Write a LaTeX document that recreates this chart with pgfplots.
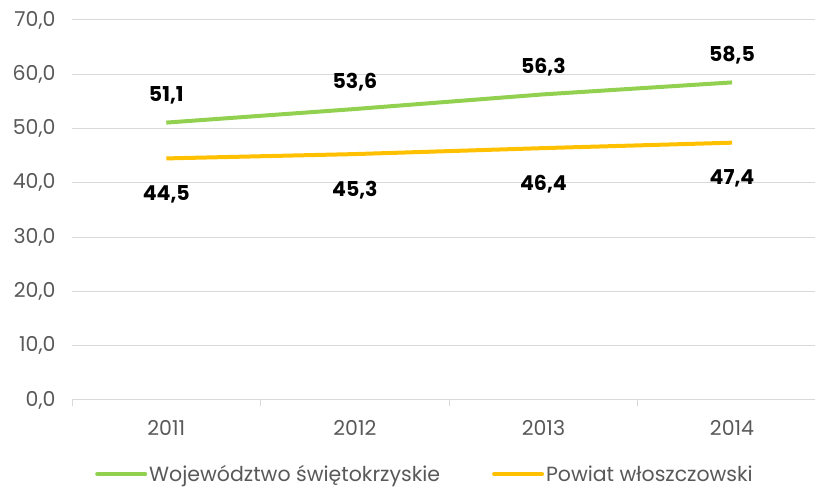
\documentclass[border=0pt]{standalone}
\usepackage{pgfplots}
\pgfplotsset{compat=1.18}
\usepackage{fontspec}
\setmainfont{Poppins}
\definecolor{cgreen}{HTML}{92D050}
\definecolor{cyellow}{HTML}{FFC000}
\definecolor{ctick}{HTML}{595959}
\definecolor{cgrid}{HTML}{D9D9D9}
\begin{document}
\begin{tikzpicture}
\useasboundingbox (0,0) rectangle (815bp,487bp);
\begin{axis}[
  at={(72bp,87bp)}, anchor=south west,
  scale only axis, width=743bp, height=380bp,
  xmin=-0.5, xmax=3.44, ymin=0, ymax=70,
  xtick={0,1,2,3}, xticklabels={2011,2012,2013,2014},
  minor xtick={-0.5,0.5,1.5,2.5},
  major x tick style={draw=none},
  minor x tick style={cgrid, line width=1bp},
  minor tick length=6bp,
  xtick align=outside,
  ytick={0,10,...,70},
  major y tick style={draw=none},
  ymajorgrids, grid style={cgrid, line width=1bp},
  axis x line*=bottom, axis y line*=left,
  x axis line style={cgrid, line width=1bp, -},
  y axis line style={draw=none},
  tick label style={font=\fontsize{20.5bp}{24bp}\selectfont, text=ctick},
  /pgf/number format/.cd, fixed, fixed zerofill, precision=1, use comma, assume math mode=true,
  /pgfplots/.cd,
  yticklabel style={xshift=-13bp},
  xticklabel style={yshift=-13bp},
  point meta=explicit symbolic,
  legend columns=2,
  legend style={draw=none, at={(0.031,-0.195)}, anchor=west, font=\fontsize{20.5bp}{24bp}\selectfont, text=ctick,
    /tikz/every even column/.append style={column sep=50bp}, inner sep=0pt},
  legend image code/.code={\draw[#1, line width=4bp, line cap=round] (0bp,0bp) -- (48bp,0bp);},
  legend cell align=left,
]
\addplot[cgreen, line width=4bp, nodes near coords,
  every node near coord/.style={anchor=south, yshift=16bp, inner sep=0pt, text=black, font=\fontsize{20.5bp}{24bp}\selectfont\bfseries}]
  coordinates {(0,51.1) [51,1] (1,53.6) [53,6] (2,56.3) [56,3] (3,58.5) [58,5]};
\addlegendentry{Województwo świętokrzyskie}
\addplot[cyellow, line width=4bp, nodes near coords,
  every node near coord/.style={anchor=north, yshift=-25bp, inner sep=0pt, text=black, font=\fontsize{20.5bp}{24bp}\selectfont\bfseries}]
  coordinates {(0,44.5) [44,5] (1,45.3) [45,3] (2,46.4) [46,4] (3,47.4) [47,4]};
\addlegendentry{Powiat włoszczowski}
\end{axis}
\end{tikzpicture}
\end{document}
